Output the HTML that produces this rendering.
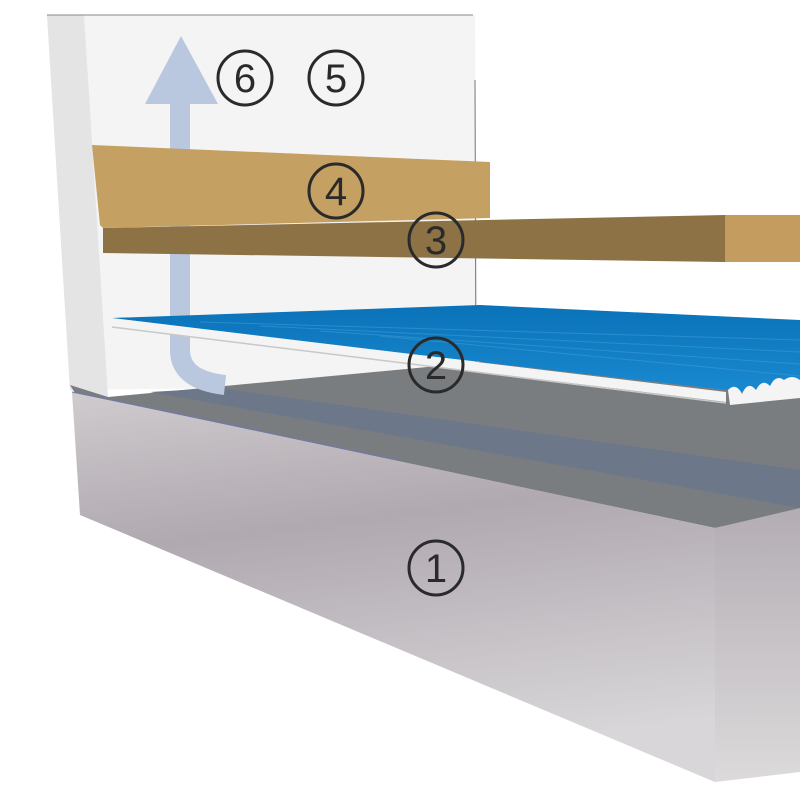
<!DOCTYPE html>
<html><head><meta charset="utf-8"><style>
html,body{margin:0;padding:0;background:#fff;width:800px;height:800px;overflow:hidden}
svg text{font-family:"Liberation Sans",sans-serif;fill:#2a2a2a}
</style></head><body>
<svg width="800" height="800" viewBox="0 0 800 800" xmlns="http://www.w3.org/2000/svg">
<defs>
<linearGradient id="front" x1="0" y1="0" x2="0.2" y2="1">
<stop offset="0" stop-color="#cfcbce"/><stop offset="0.4" stop-color="#b0a9b0"/><stop offset="1" stop-color="#d8d6d8"/>
</linearGradient>
<linearGradient id="side" x1="0" y1="0" x2="0" y2="1">
<stop offset="0" stop-color="#b3adb3"/><stop offset="1" stop-color="#dcdadb"/>
</linearGradient>
<linearGradient id="blue" x1="0" y1="0" x2="0" y2="1">
<stop offset="0" stop-color="#0a72b8"/><stop offset="1" stop-color="#1a8ad0"/>
</linearGradient>
</defs>
<polygon points="47,15 475,15 478,385 70,390" fill="#f4f4f4"/>
<polygon points="47,15 84,15 108,397 70,390" fill="#e4e4e4"/>
<line x1="47" y1="15" x2="473" y2="15" stroke="#888" stroke-width="1"/>
<line x1="475" y1="80" x2="476" y2="385" stroke="#777" stroke-width="1"/>
<polygon points="70,385 108,397 480,362 800,360 800,510 715,528 75,393" fill="#7a7d7f"/>
<polygon points="150,392 220,388 800,470 800,508 700,490" fill="#6c7789"/>
<polygon points="72,392 715,528 715,782 80,515" fill="url(#front)"/>
<polygon points="715,528 800,508 800,772 715,782" fill="url(#side)"/>
<line x1="72" y1="392" x2="400" y2="460" stroke="#6f78b0" stroke-width="1"/>
<path d="M180,100 L180,350 Q180,380 225,385" fill="none" stroke="#b9c8de" stroke-width="20"/>
<polygon points="145,104 181,36 218,104" fill="#b9c8de"/>
<polygon points="112,318 480,305 800,320 800,385 770,395 112,320" fill="url(#blue)"/>
<g stroke="#3b9ad8" stroke-width="1" opacity="0.6">
<line x1="200" y1="322" x2="800" y2="340"/><line x1="260" y1="326" x2="800" y2="352"/><line x1="320" y1="331" x2="800" y2="364"/><line x1="380" y1="336" x2="800" y2="376"/>
</g>
<path d="M112,318 L726,392 L726,402 L112,327 Z" fill="#f4f4f4"/>
<line x1="112" y1="327" x2="726" y2="403" stroke="#c8c8c8" stroke-width="1.5"/>
<path d="M728,390 q8,-8 14,4 q6,-14 14,-4 q6,-12 14,-4 q6,-12 14,-6 q8,-6 16,0 L800,398 L730,405 Z" fill="#f4f4f4"/>
<polygon points="103,228 725,215 725,262 103,253" fill="#8d7246"/>
<polygon points="725,215 800,215 800,262 725,262" fill="#c49c60"/>
<polygon points="92,145 490,162 490,218 103,228 100,225" fill="#c4a062"/>
<g fill="none" stroke="#2a2a2a" stroke-width="3">
<circle cx="245" cy="78" r="27"/><circle cx="336" cy="78" r="27"/>
<circle cx="336" cy="191" r="27"/><circle cx="436" cy="240" r="27"/>
<circle cx="436" cy="365" r="27"/><circle cx="436" cy="568" r="27"/>
</g>
<g font-size="40" text-anchor="middle">
<text x="245" y="92">6</text><text x="336" y="92">5</text>
<text x="336" y="205">4</text><text x="436" y="254">3</text>
<text x="436" y="379">2</text><text x="436" y="582">1</text>
</g>
</svg>
</body></html>
